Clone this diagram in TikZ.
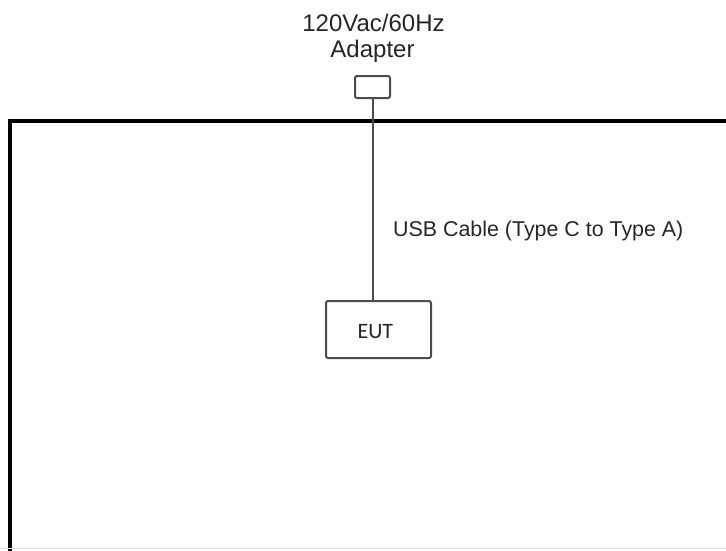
\documentclass[tikz,border=0pt]{standalone}
\usepackage{fontspec}
\setmainfont{Liberation Sans}
\newfontfamily\eutfont{Carlito}
\tikzset{
  frameline/.style={line width=4pt, black, line cap=rect},
  boxline/.style={draw=black!70, line width=2pt, rounded corners=2pt},
  cableline/.style={draw=black!70, line width=2pt},
  lbl/.style={font=\fontsize{24}{28}\selectfont, text=black!85, inner sep=0pt},
  lblsmall/.style={font=\fontsize{21.4}{25}\selectfont, text=black!85, inner sep=0pt},
}
\begin{document}
\begin{tikzpicture}[x=1pt,y=-1pt]
\useasboundingbox (0,0) rectangle (726,550);
% frame
\coordinate (fl) at (10,550);
\coordinate (fc) at (10,120.5);
\coordinate (fr) at (728,120.5);
\draw[frameline] (fl) -- (fc) -- (fr);
\coordinate (bl) at (0,548.5);
\coordinate (br) at (726,548.5);
\draw[black!12, line width=1pt] (bl) -- (br);
% adapter
\node[boxline, minimum width=35pt, minimum height=22pt, inner sep=0pt] (adapter) at (372.5,87) {};
\node[lbl, anchor=base] (t1) at (373.5,31) {120Vac/60Hz};
\node[lbl, anchor=base] (t2) at (372.5,57.5) {Adapter};
% EUT
\node[boxline, minimum width=105pt, minimum height=57pt, inner sep=0pt] (eut) at (378.5,329.5) {};
\node[font=\eutfont\fontsize{22}{26}\selectfont, text=black!85, inner sep=0pt, anchor=base] (eutt) at (375.3,338) {EUT};
% cable
\draw[cableline] (adapter.south -| 373,0) -- (eut.north -| 373,0);
\node[lblsmall, anchor=base west] (usb) at (393,236) {USB Cable (Type C to Type A)};
\end{tikzpicture}
\end{document}
